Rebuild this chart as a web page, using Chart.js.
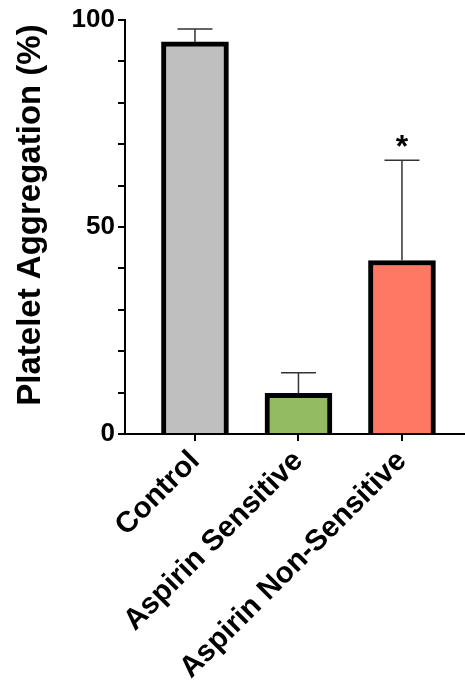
<!DOCTYPE html>
<html>
<head>
<meta charset="utf-8">
<script src="https://cdn.jsdelivr.net/npm/chart.js@4.4.0/dist/chart.umd.min.js"></script>
<style>
  html, body { margin: 0; padding: 0; background: #fff; }
  canvas { display: block; }
</style>
</head>
<body>
<canvas id="grafico" width="465" height="684"></canvas>
<script>
// === datos ===
const grupos = ["Control", "Aspirin Sensitive", "Aspirin Non-Sensitive"];
const medias = [94.7, 9.8, 41.9];
const errores = [3.1, 5.0, 24.2];
const significancia = ["", "", "*"];
const colores = ["#bfbfbf", "#93bb61", "#fe7864"];
const ticksY = [0, 50, 100];
const tituloY = "Platelet Aggregation (%)";

const FUENTE = "'Liberation Sans', Arial, sans-serif";

// barras de error (solo hacia arriba) y asterisco
const pluginErrores = {
  id: "errores",
  afterDatasetsDraw(chart) {
    const ctx = chart.ctx;
    const meta = chart.getDatasetMeta(0);
    const y = chart.scales.y;
    meta.data.forEach((bar, i) => {
      const yTop = y.getPixelForValue(medias[i] + errores[i]);
      const yBar = y.getPixelForValue(medias[i]);
      ctx.save();
      ctx.strokeStyle = "#333";
      ctx.lineWidth = 1.5;
      ctx.beginPath();
      ctx.moveTo(bar.x, yBar);
      ctx.lineTo(bar.x, yTop);
      ctx.moveTo(bar.x - 17.5, yTop);
      ctx.lineTo(bar.x + 17.5, yTop);
      ctx.stroke();
      if (significancia[i]) {
        ctx.fillStyle = "#000";
        ctx.font = "bold 32px " + FUENTE;
        ctx.textAlign = "center";
        ctx.textBaseline = "alphabetic";
        ctx.fillText(significancia[i], bar.x, yTop - 3);
      }
      ctx.restore();
    });
  }
};

// título del eje Y dibujado a mano para ubicarlo igual que el original
const pluginTitulo = {
  id: "tituloY",
  afterDraw(chart) {
    const ctx = chart.ctx;
    ctx.save();
    ctx.translate(31, 215);
    ctx.rotate(-Math.PI / 2);
    ctx.font = "bold 33px " + FUENTE;
    ctx.fillStyle = "#000";
    ctx.textAlign = "center";
    ctx.textBaseline = "middle";
    ctx.fillText(tituloY, 0, 0);
    ctx.restore();
  }
};

new Chart(document.getElementById("grafico"), {
  type: "bar",
  data: {
    datasets: [{
      data: medias.map((m, i) => ({ x: i, y: m })),
      backgroundColor: colores,
      borderColor: "#000",
      borderWidth: 5,
      borderSkipped: "start",
      barThickness: 67
    }]
  },
  options: {
    responsive: false,
    animation: false,
    layout: { padding: { top: 20, left: 0, right: 0, bottom: 0 } },
    plugins: { legend: { display: false }, tooltip: { enabled: false } },
    scales: {
      x: {
        type: "linear",
        offset: false,
        min: -0.676,
        max: 2.609,
        afterBuildTicks: s => { s.ticks = grupos.map((g, i) => ({ value: i })); },
        afterFit: s => { s.height = 250; },
        border: { display: true, color: "#000", width: 2 },
        grid: { display: true, offset: false, drawOnChartArea: false, drawTicks: true, tickLength: 7, color: "#000", lineWidth: 2 },
        ticks: {
          autoSkip: false,
          minRotation: 45,
          maxRotation: 45,
          color: "#000",
          padding: 3,
          font: { family: FUENTE, size: 29.5, weight: "bold" },
          callback: v => grupos[v] ?? ""
        }
      },
      y: {
        min: 0,
        max: 100,
        afterFit: s => { s.width = 125; },
        border: { display: true, color: "#000", width: 2 },
        grid: { display: true, drawOnChartArea: false, drawTicks: true, tickLength: 7, color: "#000", lineWidth: 2 },
        ticks: {
          stepSize: 10,
          autoSkip: false,
          color: "#000",
          padding: 3,
          font: { family: FUENTE, size: 26, weight: "bold" },
          callback: v => ticksY.includes(v) ? v : ""
        }
      }
    }
  },
  plugins: [pluginErrores, pluginTitulo]
});
</script>
</body>
</html>
